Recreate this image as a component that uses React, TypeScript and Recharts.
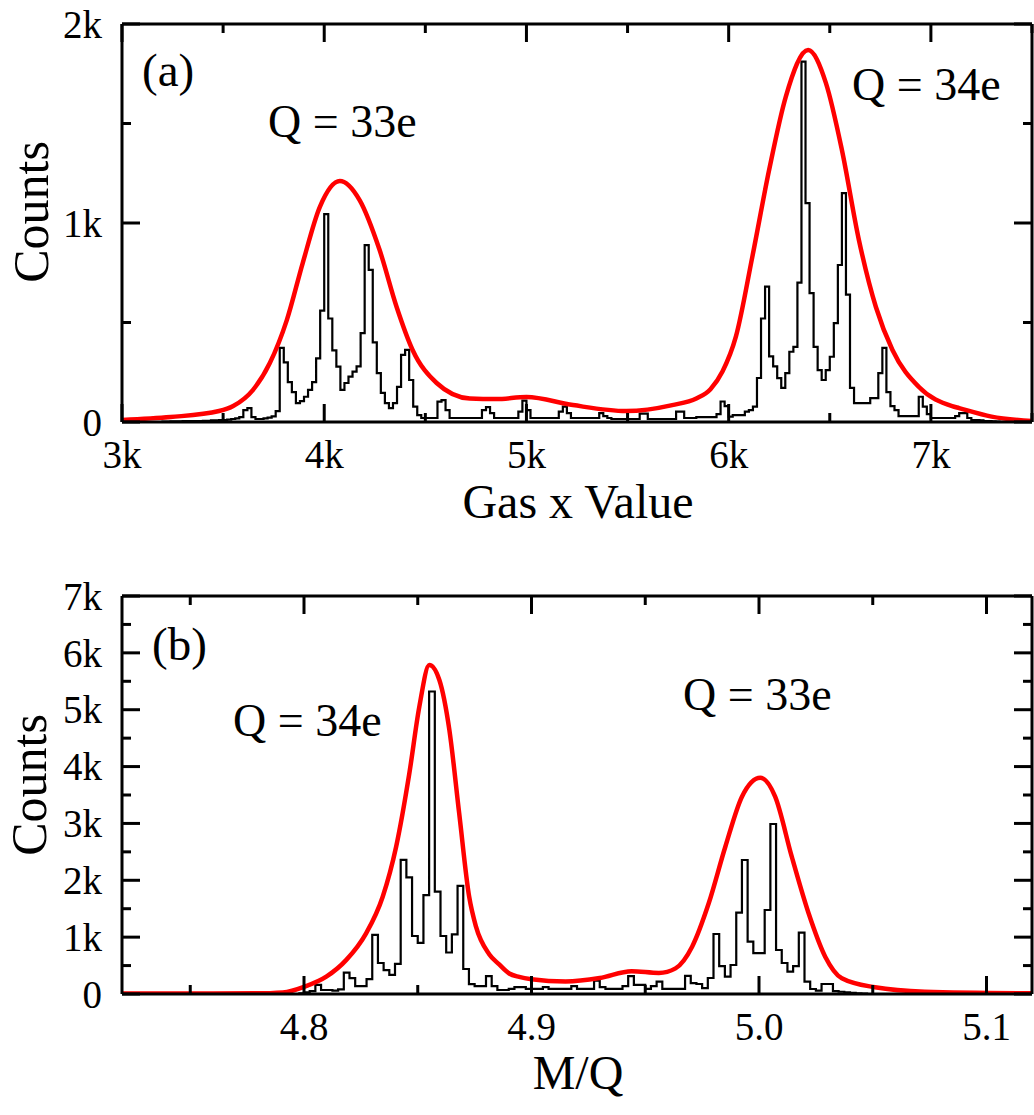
import { LineChart, Line, XAxis, YAxis } from "recharts";

const FONT = "'Liberation Serif', 'Times New Roman', serif";

// panel (a): histogram of gas x value, 20-unit bins starting at 3000
const gasStart = 3000;
const gasBin = 20;
const gasCounts = [
  0, 0, 0, 0, 0, 0, 0, 0, 0, 0, // 3000
  2, 2, 3, 3, 3, 4, 4, 5, 5, 5, // 3200
  6, 6, 8, 8, 10, 10, 12, 15, 18, 25, // 3400
  60, 70, 25, 15, 15, 18, 22, 28, 55, 372, // 3600
  300, 200, 150, 95, 105, 127, 161, 200, 320, 560, // 3800
  1045, 520, 360, 278, 161, 196, 228, 253, 280, 447, // 4000
  889, 764, 400, 246, 146, 95, 70, 95, 177, 337, // 4200
  362, 211, 77, 35, 20, 20, 20, 20, 102, 110, // 4400
  60, 20, 20, 20, 20, 20, 20, 20, 20, 60, // 4600
  75, 45, 20, 20, 20, 20, 20, 20, 52, 107, // 4800
  60, 20, 20, 20, 20, 20, 20, 20, 52, 77, // 5000
  45, 20, 20, 20, 20, 20, 20, 20, 45, 30, // 5200
  20, 15, 15, 15, 15, 15, 15, 15, 42, 42, // 5400
  15, 15, 15, 15, 15, 15, 15, 52, 52, 20, // 5600
  20, 20, 25, 25, 25, 25, 25, 40, 103, 80, // 5800
  27, 35, 35, 35, 52, 60, 77, 221, 520, 680, // 6000
  330, 280, 220, 171, 246, 353, 378, 700, 1811, 1100, // 6200
  648, 378, 261, 211, 261, 328, 497, 789, 1150, 640, // 6400
  171, 95, 95, 95, 95, 120, 120, 246, 372, 150, // 6600
  80, 60, 30, 30, 30, 30, 30, 127, 77, 40, // 6800
  20, 20, 20, 20, 20, 20, 30, 45, 45, 20, // 7000
  10, 10, 8, 5, 5, 3, 2, 0, 0, 0, // 7200
  0, 0, 0, 0, 0, // 7400
];

// fitted curve (a)
const gasFitX = [3000, 3240, 3480, 3550, 3647, 3731, 3815, 3894, 3978, 4077, 4175, 4274, 4358, 4437, 4556, 4720, 4850, 5000, 5230, 5494, 5721, 5840, 5910, 5970, 6036, 6117, 6200, 6282, 6393, 6481, 6560, 6644, 6728, 6810, 6941, 7105, 7140, 7300, 7500];
const gasFitY = [10, 25, 55, 80, 160, 296, 512, 800, 1080, 1211, 1115, 864, 578, 362, 196, 118, 115, 126, 85, 55, 85, 118, 165, 255, 430, 830, 1266, 1633, 1869, 1703, 1367, 915, 578, 362, 176, 80, 70, 27, 5];

// panel (b): histogram of M/Q, 0.0025 bins starting at 4.7975
const mqStart = 4.7975;
const mqBin = 0.0025;
const mqCounts = [
  10, 30, 50, 160, 70, 70, 60, 80, 375, 280,
  140, 140, 260, 1040, 545, 420, 335, 530, 2360, 2050,
  1020, 900, 1740, 5320, 1800, 1020, 730, 1050, 1900, 440,
  175, 140, 140, 315, 140, 70, 70, 90, 120, 120,
  90, 90, 90, 120, 90, 90, 90, 90, 140, 90,
  90, 90, 234, 120, 90, 90, 90, 140, 316, 160,
  160, 90, 140, 217, 90, 90, 90, 90, 320, 190,
  176, 105, 281, 1055, 492, 305, 510, 1430, 2357, 920,
  720, 720, 1477, 2990, 774, 545, 393, 492, 1078, 217,
  88, 60, 176, 176, 50, 40, 30, 20, 10, 5,
  0,
];

// fitted curve (b)
const mqFitX = [4.72, 4.76, 4.785, 4.7907, 4.8003, 4.8098, 4.8186, 4.8273, 4.8346, 4.8405, 4.8463, 4.8507, 4.8551, 4.8595, 4.8639, 4.8682, 4.8726, 4.8756, 4.8814, 4.8858, 4.8902, 4.8946, 4.9, 4.915, 4.93, 4.944, 4.956, 4.9633, 4.9706, 4.9779, 4.9852, 4.9925, 5.0006, 5.0071, 5.0144, 5.0218, 5.0291, 5.0364, 5.051, 5.0729, 5.12];
const mqFitY = [8, 8, 15, 25, 130, 305, 600, 1067, 1711, 2590, 3880, 5053, 5786, 5522, 4643, 3183, 1711, 1184, 700, 520, 360, 300, 260, 220, 280, 400, 370, 451, 832, 1595, 2590, 3470, 3804, 3470, 2415, 1419, 656, 276, 118, 40, 12];

// tick values
const gasXTicks = [3000, 3500, 4000, 4500, 5000, 5500, 6000, 6500, 7000, 7500];
const gasXMajor = [3000, 4000, 5000, 6000, 7000];
const gasYTicks = [0, 500, 1000, 1500, 2000];
const gasYMajor = [0, 1000, 2000];
const mqXTicks = [4.75, 4.8, 4.85, 4.9, 4.95, 5.0, 5.05, 5.1];
const mqXMajor = [4.8, 4.9, 5.0, 5.1];
const mqYTicks = [0, 500, 1000, 1500, 2000, 2500, 3000, 3500, 4000, 4500, 5000, 5500, 6000, 6500, 7000];
const mqYMajor = [0, 1000, 2000, 3000, 4000, 5000, 6000, 7000];

const histData = (start: number, bin: number, counts: number[]) => {
  const rows = counts.map((c, i) => ({ x: start + i * bin, y: c }));
  rows.push({ x: start + counts.length * bin, y: counts[counts.length - 1] });
  return rows;
};
const fitData = (xs: number[], ys: number[]) => xs.map((x, i) => ({ x, y: ys[i] }));

const kFmt = (v: number) => (v === 0 ? "0" : `${v / 1000}k`);
const decFmt = (v: number) => v.toFixed(1);

// inward ticks drawn by hand; majors long and labelled (bottom/left only)
const makeTick = (side: string, majors: number[], fmt?: (v: number) => string) => (props: any) => {
  const { x, y, payload } = props;
  const v = payload.value;
  const major = majors.some(m => Math.abs(m - v) < 1e-9);
  const len = major ? 18 : 9;
  let d = "";
  let label = null;
  if (side === "bottom") {
    d = `M${x},${y}V${y - len}`;
    if (major && fmt) label = <text x={x} y={y + 46} textAnchor="middle" fontSize={39} fontFamily={FONT} fill="#000">{fmt(v)}</text>;
  } else if (side === "top") {
    d = `M${x},${y}V${y + len}`;
  } else if (side === "left") {
    d = `M${x},${y}H${x + len}`;
    if (major && fmt) label = <text x={x - 20} y={y} dy="0.35em" textAnchor="end" fontSize={39} fontFamily={FONT} fill="#000">{fmt(v)}</text>;
  } else {
    d = `M${x},${y}H${x - len}`;
  }
  return (
    <g>
      <path d={d} stroke="#000" strokeWidth={3} fill="none" />
      {label}
    </g>
  );
};

const frame = { stroke: "#000", strokeWidth: 3 };

type PanelProps = {
  height: number;
  top: number;
  bottomH: number;
  xDomain: [number, number];
  yDomain: [number, number];
  xTicks: number[];
  xMajor: number[];
  yTicks: number[];
  yMajor: number[];
  xFmt: (v: number) => string;
  hist: { x: number; y: number }[];
  fit: { x: number; y: number }[];
};

const Panel = (p: PanelProps) => (
  <LineChart width={1034} height={p.height} margin={{ top: p.top, right: 1, bottom: 0, left: 0 }}>
    <XAxis dataKey="x" type="number" domain={p.xDomain} allowDataOverflow ticks={p.xTicks} interval={0}
      height={p.bottomH} tickSize={0} tickMargin={0} tickLine={false} axisLine={frame}
      tick={makeTick("bottom", p.xMajor, p.xFmt)} />
    <XAxis xAxisId="top" orientation="top" dataKey="x" type="number" domain={p.xDomain} allowDataOverflow
      ticks={p.xTicks} interval={0} height={1} tickSize={0} tickMargin={0} tickLine={false} axisLine={frame}
      tick={makeTick("top", p.xMajor)} />
    <YAxis type="number" domain={p.yDomain} allowDataOverflow ticks={p.yTicks} interval={0} width={122}
      tickSize={0} tickMargin={0} tickLine={false} axisLine={frame} tick={makeTick("left", p.yMajor, kFmt)} />
    <YAxis yAxisId="right" orientation="right" type="number" domain={p.yDomain} allowDataOverflow
      ticks={p.yTicks} interval={0} width={1} tickSize={0} tickMargin={0} tickLine={false} axisLine={frame}
      tick={makeTick("right", p.yMajor)} />
    <Line data={p.hist} dataKey="y" type="stepAfter" stroke="#000" strokeWidth={2.2} dot={false} activeDot={false} isAnimationActive={false} />
    <Line data={p.fit} dataKey="y" type="monotone" stroke="#ff0000" strokeWidth={4.5} dot={false} activeDot={false} isAnimationActive={false} />
  </LineChart>
);

const textStyle = { fontFamily: FONT, fill: "#000" };

export default function App() {
  return (
    <div style={{ position: "absolute", left: 0, top: 0, width: 1034, height: 1115, background: "#fff" }}>
      <div style={{ position: "absolute", left: 0, top: 0 }}>
        <Panel height={540} top={23} bottomH={118} xDomain={[3000, 7500]} yDomain={[0, 2000]}
          xTicks={gasXTicks} xMajor={gasXMajor} yTicks={gasYTicks} yMajor={gasYMajor} xFmt={kFmt}
          hist={histData(gasStart, gasBin, gasCounts)} fit={fitData(gasFitX, gasFitY)} />
      </div>
      <div style={{ position: "absolute", left: 0, top: 540 }}>
        <Panel height={575} top={55} bottomH={121} xDomain={[4.72, 5.12]} yDomain={[0, 7000]}
          xTicks={mqXTicks} xMajor={mqXMajor} yTicks={mqYTicks} yMajor={mqYMajor} xFmt={decFmt}
          hist={histData(mqStart, mqBin, mqCounts)} fit={fitData(mqFitX, mqFitY)} />
      </div>
      {/* titles and annotations */}
      <svg width={1034} height={1115} style={{ position: "absolute", left: 0, top: 0, pointerEvents: "none" }}>
        <text transform="translate(48,212) rotate(-90)" textAnchor="middle" fontSize={50} {...textStyle}>Counts</text>
        <text transform="translate(46,785) rotate(-90)" textAnchor="middle" fontSize={50} {...textStyle}>Counts</text>
        <text x={578} y={518} textAnchor="middle" fontSize={48} {...textStyle}>Gas x Value</text>
        <text x={578} y={1089} textAnchor="middle" fontSize={48} {...textStyle}>M/Q</text>
        <text x={142} y={86} fontSize={47} {...textStyle}>(a)</text>
        <text x={268} y={137} fontSize={46} {...textStyle}>Q = 33e</text>
        <text x={852} y={100} fontSize={46} {...textStyle}>Q = 34e</text>
        <text x={152} y={660} fontSize={47} {...textStyle}>(b)</text>
        <text x={233} y={736} fontSize={46} {...textStyle}>Q = 34e</text>
        <text x={683} y={710} fontSize={46} {...textStyle}>Q = 33e</text>
      </svg>
    </div>
  );
}
